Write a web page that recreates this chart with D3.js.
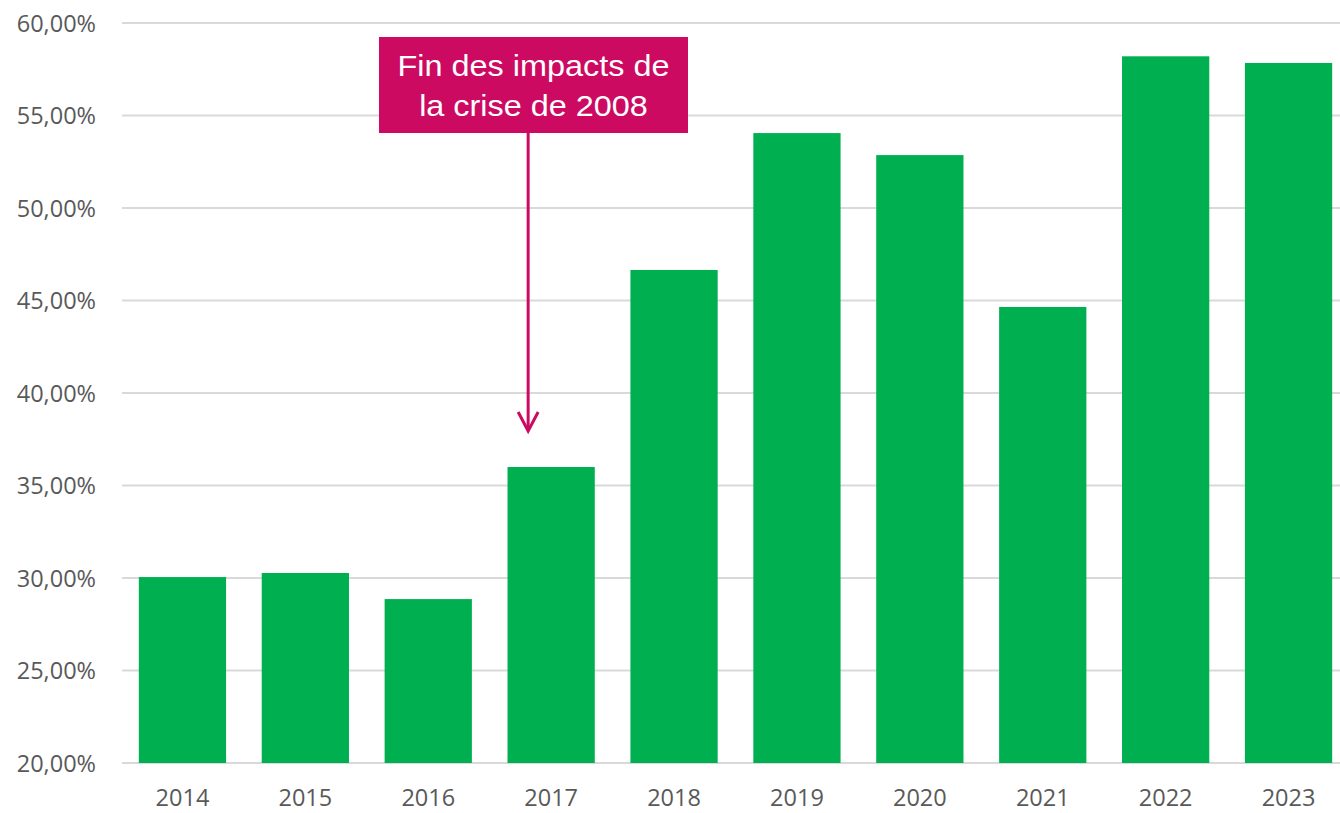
<!DOCTYPE html>
<html>
<head>
<meta charset="utf-8">
<script src="https://cdn.jsdelivr.net/npm/d3@7"></script>
<style>
  html, body { margin: 0; padding: 0; background: #fff; }
  svg { display: block; }
  .tick text { font-family: "Open Sans", sans-serif; fill: #595959; }
</style>
</head>
<body>
<svg id="chart" width="1340" height="813"></svg>
<script>
// data
var years = ["2014", "2015", "2016", "2017", "2018", "2019", "2020", "2021", "2022", "2023"];
var values = [30.05, 30.27, 28.86, 36.0, 46.65, 54.05, 52.86, 44.65, 58.2, 57.84];
var yTicks = [20, 25, 30, 35, 40, 45, 50, 55, 60];
var noteLines = ["Fin des impacts de", "la crise de 2008"];
var noteYear = "2017";

var svg = d3.select("#chart");

var plotLeft = 121, plotRight = 1350, plotTop = 23, plotBottom = 763;

var x = d3.scaleBand().domain(years).range([plotLeft, plotRight])
	.paddingInner(0.29).paddingOuter(0.145);
var y = d3.scaleLinear().domain([20, 60]).range([plotBottom, plotTop]);

// gridlines
svg.append("g").selectAll("line").data(yTicks).enter().append("line")
	.attr("x1", plotLeft + 1).attr("x2", plotRight)
	.attr("y1", d => y(d)).attr("y2", d => y(d))
	.style("stroke", "#d9d9d9").style("stroke-width", 2);

// y axis labels
var yAxis = svg.append("g")
	.attr("transform", "translate(96,0)")
	.call(d3.axisLeft(y).tickValues(yTicks).tickSize(0).tickPadding(0)
		.tickFormat(d => d3.format(".2f")(d).replace(".", ",") + "%"));
yAxis.select(".domain").remove();
yAxis.selectAll("text").style("font-size", "23.5px").attr("dy", "0.35em");

// bars
svg.append("g").selectAll("rect").data(values).enter().append("rect")
	.attr("x", (d, i) => x(years[i]))
	.attr("width", x.bandwidth())
	.attr("y", d => y(d))
	.attr("height", d => y(20) - y(d))
	.style("fill", "#00b050");

// x axis labels
var xAxis = svg.append("g")
	.attr("transform", "translate(0," + (plotBottom + 26) + ")")
	.call(d3.axisBottom(x).tickSize(0).tickPadding(0));
xAxis.select(".domain").remove();
xAxis.selectAll("text").style("font-size", "23.5px").attr("dy", "0.72em");

// annotation
var noteColor = "#cc0a62";
var ax = x(noteYear) + x.bandwidth() / 2 - 23;
var note = svg.append("g");
note.append("rect")
	.attr("x", 379).attr("y", 37).attr("width", 309).attr("height", 96)
	.style("fill", noteColor);
note.selectAll("text").data(noteLines).enter().append("text")
	.attr("transform", (d, i) => "translate(533.5," + (76 + i * 40) + ") scale(1.08,1)")
	.attr("text-anchor", "middle")
	.style("font-family", "'Liberation Sans', Arial, sans-serif")
	.style("font-size", "30px")
	.style("fill", "#fff")
	.text(d => d);
note.append("line")
	.attr("x1", ax).attr("x2", ax)
	.attr("y1", 133).attr("y2", 430)
	.style("stroke", noteColor).style("stroke-width", 3);
note.append("polyline")
	.attr("points", `${ax - 10},${412} ${ax},${431} ${ax + 10},${412}`)
	.style("fill", "none").style("stroke", noteColor).style("stroke-width", 3);
</script>
</body>
</html>
